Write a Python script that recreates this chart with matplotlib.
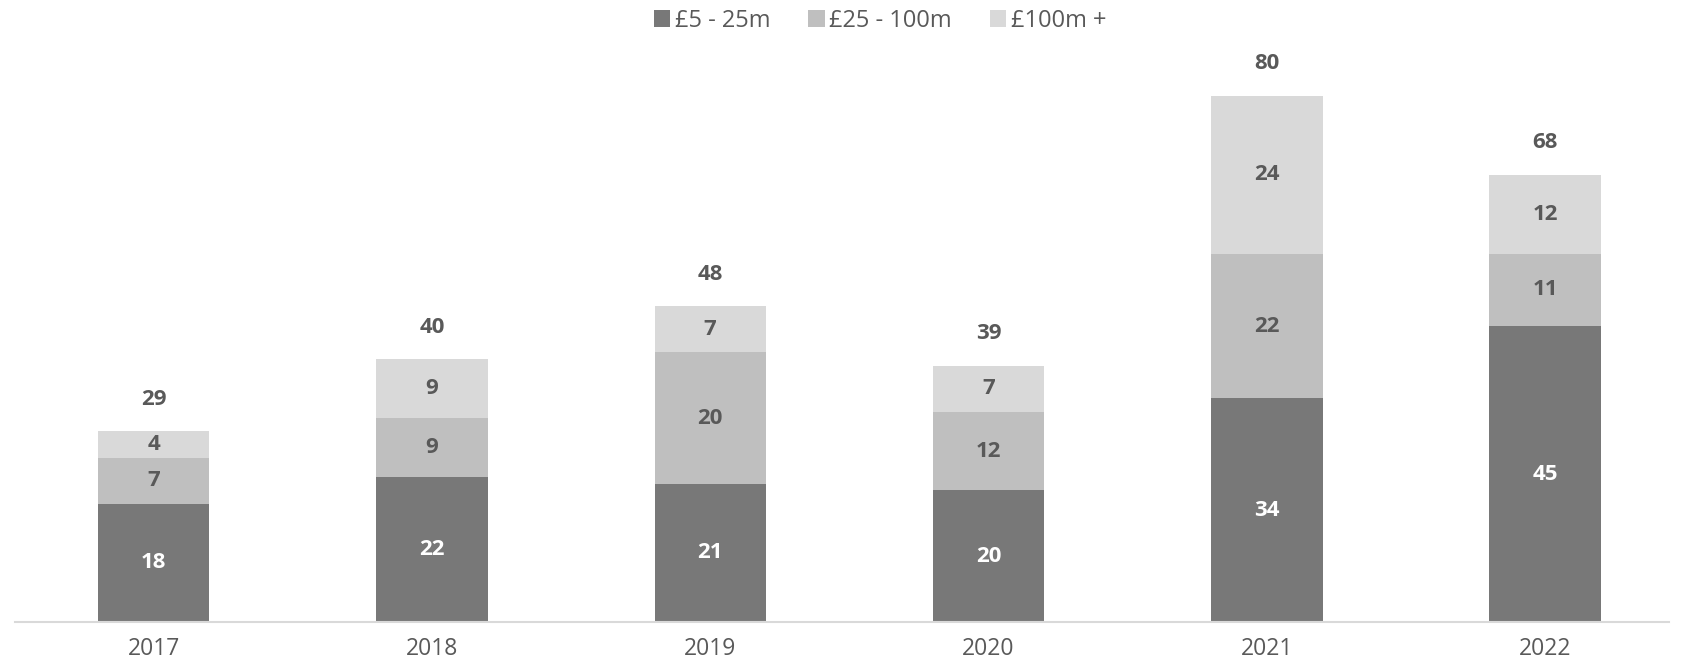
import matplotlib
matplotlib.use("Agg")
import matplotlib.pyplot as plt
import numpy as np

# Datos
years = ["2017", "2018", "2019", "2020", "2021", "2022"]
small = [18, 22, 21, 20, 34, 45]      # £5 - 25m
mid = [7, 9, 20, 12, 22, 11]          # £25 - 100m
large = [4, 9, 7, 7, 24, 12]          # £100m +
series_names = ["£5 - 25m", "£25 - 100m", "£100m +"]

plt.rcParams["font.family"] = ["Open Sans", "DejaVu Sans"]

colors = ["#787878", "#bfbfbf", "#d9d9d9"]
text_dark = "#595959"

fig = plt.figure(figsize=(16.89, 6.61), dpi=100)
ax = fig.add_axes([15 / 1689, 1 - 622 / 661, 1654 / 1689, 580 / 661])

x = np.arange(len(years))
width = 0.4
bottom = np.zeros(len(years))
for vals, col, name in zip([small, mid, large], colors, series_names):
    vals = np.array(vals)
    ax.bar(x, vals, width, bottom=bottom, color=col, label=name)
    txt_col = "white" if col == colors[0] else text_dark
    for xi, b, v in zip(x, bottom, vals):
        ax.text(xi, b + v / 2, str(v), ha="center", va="center",
                fontsize=16, fontweight="bold", color=txt_col)
    bottom = bottom + vals

# Totales arriba de cada barra
for xi, tot in zip(x, bottom):
    ax.annotate(str(int(tot)), (xi, tot), xytext=(0, 23), textcoords="offset points",
                ha="center", va="center", fontsize=16, fontweight="bold", color=text_dark)

ax.set_xlim(-0.498, 5.445)
ax.set_ylim(0, 88.2)
ax.set_xticks(x)
ax.set_xticklabels(years, fontsize=16.5, color=text_dark)
ax.tick_params(axis="x", length=0, pad=11)
ax.set_yticks([])
for s in ["top", "right", "left"]:
    ax.spines[s].set_visible(False)
ax.spines["bottom"].set_color("#d9d9d9")
ax.spines["bottom"].set_linewidth(1.5)

fig.legend(loc="center", bbox_to_anchor=(880 / 1689, 1 - 21 / 661), ncol=3,
           frameon=False, fontsize=17, labelcolor=text_dark,
           handlelength=0.7, handleheight=0.7, handletextpad=0.2, columnspacing=1.6)

fig.savefig("out.png", dpi=100)
